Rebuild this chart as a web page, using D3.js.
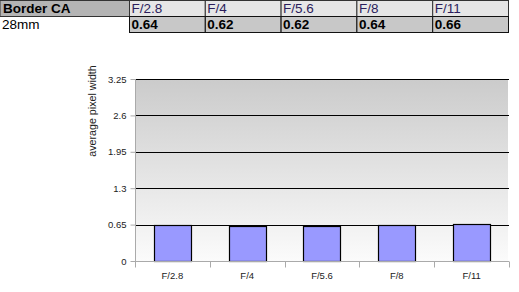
<!DOCTYPE html>
<html><head><meta charset="utf-8">
<script src="https://cdn.jsdelivr.net/npm/d3@7"></script>
<style>body{margin:0;background:#fff}svg{display:block}</style>
</head><body>
<script>
const tableTitle = "Border CA";
const rowLabel = "28mm";
const categories = ["F/2.8","F/4","F/5.6","F/8","F/11"];
const values = [0.64,0.62,0.62,0.64,0.66];
const valueLabels = ["0.64","0.62","0.62","0.64","0.66"];
const yTicks = [0,0.65,1.3,1.95,2.6,3.25];
const yTickLabels = ["0","0.65","1.3","1.95","2.6","3.25"];
const yLabel = "average pixel width";

const W=519,H=292;
const svg=d3.select("body").append("svg").attr("width",W).attr("height",H);
const font="'Liberation Sans', Arial, sans-serif";

// table
const colX=d3.scaleBand().domain(categories).range([129.5,508.5]);
const rowY=[0.5,16.5,32.5];
const t=svg.append("g");
t.append("rect").attr("x",0).attr("y",rowY[0]).attr("width",129.5).attr("height",16).attr("fill","#b4b4b4").attr("stroke","#333");
t.append("text").attr("x",3).attr("y",13).text(tableTitle).attr("font-family",font).attr("font-size",13.5).attr("font-weight","bold").attr("fill","#000");
t.append("text").attr("x",2).attr("y",29).text(rowLabel).attr("font-family",font).attr("font-size",13.5).attr("fill","#000");
categories.forEach((c,i)=>{
  t.append("rect").attr("x",colX(c)).attr("y",rowY[0]).attr("width",colX.bandwidth()).attr("height",16).attr("fill","#e6e6e6").attr("stroke","#333");
  t.append("text").attr("x",colX(c)+2).attr("y",13).text(c).attr("font-family",font).attr("font-size",13.5).attr("fill","#2b1d5c");
  t.append("rect").attr("x",colX(c)).attr("y",rowY[1]).attr("width",colX.bandwidth()).attr("height",16).attr("fill","#c8c8c8").attr("stroke","#111");
  t.append("text").attr("x",colX(c)+2).attr("y",29).text(valueLabels[i]).attr("font-family",font).attr("font-size",13.5).attr("font-weight","bold").attr("fill","#000");
});

// chart
const x0=135,x1=509,yTop=79,yBot=261;
const x=d3.scaleBand().domain(categories).range([x0,x1]).paddingInner(0.5).paddingOuter(0.25);
const y=d3.scaleLinear().domain([0,3.25]).range([yBot,yTop]);

const defs=svg.append("defs");
const grad=defs.append("linearGradient").attr("id","bg").attr("x1",0).attr("y1",0).attr("x2",0).attr("y2",1);
grad.append("stop").attr("offset","0%").attr("stop-color","#cbcbcb");
grad.append("stop").attr("offset","100%").attr("stop-color","#fbfbfb");
svg.append("rect").attr("x",x0).attr("y",yTop).attr("width",x1-x0-1).attr("height",yBot-yTop).attr("fill","url(#bg)");

// gridlines
svg.append("g").selectAll("line").data(yTicks.filter(d=>d>0)).join("line")
  .attr("x1",x0).attr("x2",x1).attr("y1",d=>Math.round(y(d))+0.5).attr("y2",d=>Math.round(y(d))+0.5)
  .attr("stroke","#000").attr("stroke-width",1.2);

// bars
svg.append("g").selectAll("rect").data(values).join("rect")
  .attr("x",(d,i)=>Math.round(x(categories[i]))+0.5)
  .attr("y",d=>Math.round(y(d))+0.5)
  .attr("width",Math.round(x.bandwidth()))
  .attr("height",d=>yBot-Math.round(y(d)))
  .attr("fill","#9999ff").attr("stroke","#000").attr("stroke-width",1.2);

// y axis
const ya=svg.append("g").attr("transform",`translate(${x0+0.5},0)`)
  .call(d3.axisLeft(y).tickValues(yTicks).tickFormat((d,i)=>yTickLabels[i]).tickSize(5).tickPadding(4));
ya.select(".domain").attr("stroke","#aaa").attr("d",`M0,${yTop}V${yBot+5}`);
ya.selectAll(".tick line").attr("stroke","#aaa");
ya.selectAll("text").attr("font-family",font).attr("font-size",9.5).attr("fill","#222");

// x axis
const xa=svg.append("g").attr("transform",`translate(0,${yBot+0.5})`);
xa.append("line").attr("x1",x0).attr("x2",x1).attr("stroke","#aaa");
const bounds=d3.range(categories.length+1).map(i=>x0+i*x.step());
xa.selectAll(".tk").data(bounds).join("line").attr("class","tk")
  .attr("x1",d=>Math.round(d)+0.5).attr("x2",d=>Math.round(d)+0.5).attr("y1",0).attr("y2",6).attr("stroke","#aaa");
xa.selectAll("text").data(categories).join("text")
  .attr("x",d=>x(d)+x.bandwidth()/2).attr("y",17).attr("text-anchor","middle")
  .attr("font-family",font).attr("font-size",9.5).attr("fill","#222").text(d=>d);

// y label
svg.append("text").attr("transform",`translate(96,111) rotate(-90)`)
  .attr("text-anchor","middle").attr("font-family",font).attr("font-size",10.7).attr("fill","#222").text(yLabel);
</script>
</body></html>
